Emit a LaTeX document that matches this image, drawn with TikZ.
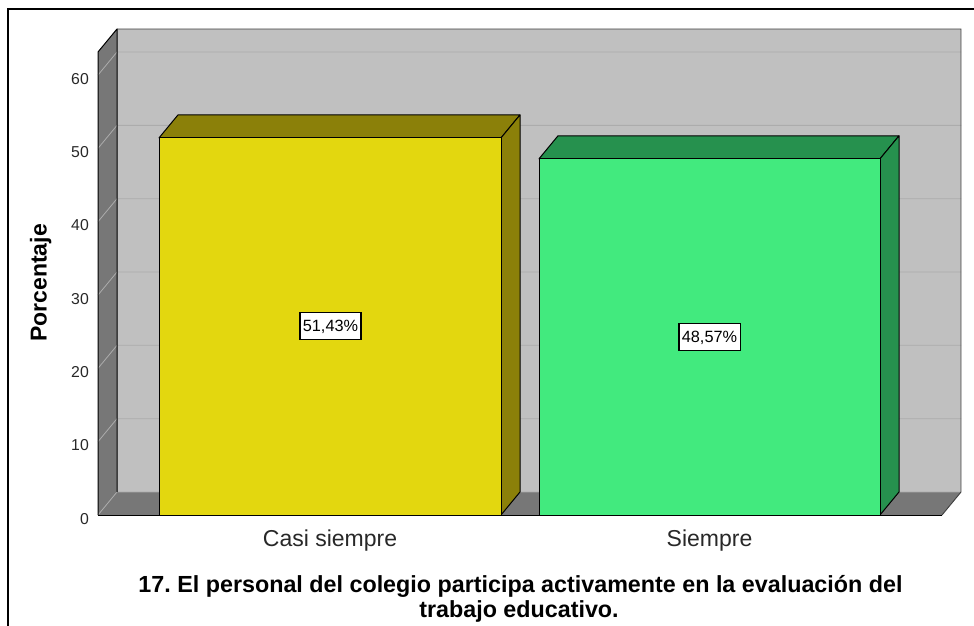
\documentclass[tikz,border=0pt]{standalone}
\usepackage{fontspec}
\setmainfont{Liberation Sans}
\frenchspacing
\definecolor{wallgray}{RGB}{192,192,192}
\definecolor{sidegray}{RGB}{119,119,119}
\definecolor{gridgray}{RGB}{172,172,172}
\definecolor{yelfront}{RGB}{227,215,15}
\definecolor{yeldark}{RGB}{139,128,9}
\definecolor{grnfront}{RGB}{66,234,126}
\definecolor{grndark}{RGB}{38,145,78}
\definecolor{ticktext}{RGB}{40,40,40}
\tikzset{
  gridline/.style={draw=gridgray, line width=0.8pt},
  edgeline/.style={draw=black, line width=1pt, line join=round},
  ticklabel/.style={anchor=east, inner sep=0pt, text height=11pt, text depth=0pt,
     text=ticktext, font=\fontsize{15.8}{18}\selectfont},
  catlabel/.style={anchor=base, inner sep=0pt, text=ticktext, font=\fontsize{23}{26}\selectfont},
  titlelabel/.style={anchor=base, inner sep=0pt, font=\bfseries\fontsize{23.3}{26}\selectfont},
  valbox/.style={draw=black, line width=1.3pt, fill=white, inner xsep=3pt, inner ysep=7.5pt,
     text height=11.5pt, text depth=0pt, font=\fontsize{16.3}{18}\selectfont},
}
\begin{document}
\begin{tikzpicture}[x=1pt,y=-1pt]
\useasboundingbox (0,0) rectangle (974,626);
\fill[white] (0,0) rectangle (974,626);
% outer frame
\draw[line width=1.5pt] (8,630) -- (8,9) -- (980,9);
% back wall, left wall, floor
\fill[wallgray] (117,29) rectangle (961,492);
\fill[sidegray] (98,52) -- (117,29) -- (117,492) -- (98,515) -- cycle;
\fill[sidegray] (98,515) -- (117,492) -- (961,492) -- (942,515) -- cycle;
% grid lines
\foreach \v in {0,10,...,60}{
  \pgfmathsetmacro{\yf}{515-7.333*\v}
  \pgfmathsetmacro{\yb}{492-7.333*\v}
  \draw[gridline] (98,\yf) -- (117,\yb) -- (961,\yb);
}
% edges of walls
\draw[draw=black!75, line width=0.9pt] (117,29) -- (961,29) -- (961,492) -- (942,515);
\draw[edgeline] (98,515) -- (98,52) -- (117,29) -- (117,492);
\draw[edgeline] (98,515) -- (942,515);
% tick labels
\foreach \v in {0,10,...,60}{
  \pgfmathsetmacro{\yl}{515-7.333*\v+3.5}
  \node[ticklabel] (tick\v) at (89,\yl) {\v};
}
% bar Casi siempre
\filldraw[fill=yeldark, edgeline] (159,137.9) -- (178,114.9) -- (520,114.9) -- (501,137.9) -- cycle;
\filldraw[fill=yeldark, edgeline] (501,137.9) -- (520,114.9) -- (520,492) -- (501,515) -- cycle;
\filldraw[fill=yelfront, edgeline] (159,137.9) rectangle (501,515);
% bar Siempre
\filldraw[fill=grndark, edgeline] (539,158.8) -- (558,135.8) -- (899,135.8) -- (880,158.8) -- cycle;
\filldraw[fill=grndark, edgeline] (880,158.8) -- (899,135.8) -- (899,492) -- (880,515) -- cycle;
\filldraw[fill=grnfront, edgeline] (539,158.8) rectangle (880,515);
% value labels
\node[valbox] (val1) at (330.5,326) {51,43\%};
\node[valbox] (val2) at (709.5,337) {48,57\%};
% axis title
\node[rotate=90, anchor=base, inner sep=0pt, font=\bfseries\fontsize{23}{26}\selectfont] (ytitle) at (46.5,283) {Porcentaje};
% category labels
\node[catlabel] (cat1) at (330,546.5) {Casi siempre};
\node[catlabel] (cat2) at (709.5,546.5) {Siempre};
% chart title
\node[titlelabel] (title1) at (520.5,592) {17. El personal del colegio participa activamente en la evaluación del};
\node[titlelabel] (title2) at (519,617) {trabajo educativo.};
\end{tikzpicture}
\end{document}
